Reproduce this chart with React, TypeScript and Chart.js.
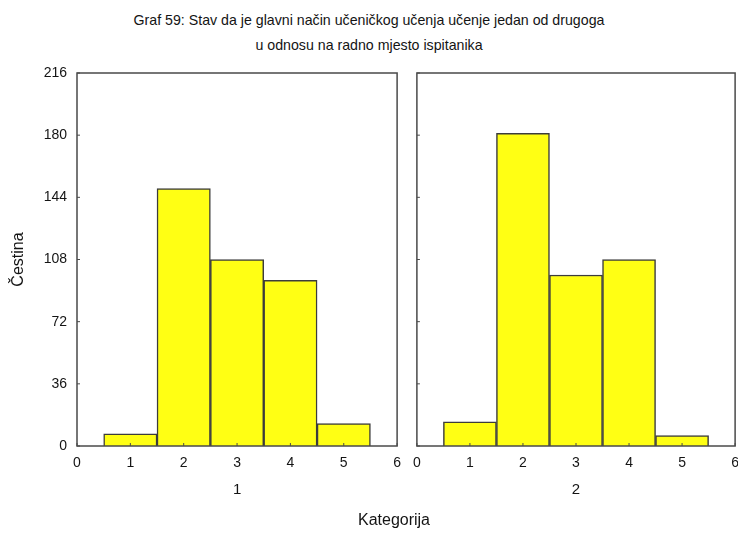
import React, { useEffect, useRef } from 'react';
import { Chart, registerables } from 'chart.js';

Chart.register(...registerables);

const categories = [1, 2, 3, 4, 5];
const group1Values = [7, 149, 108, 96, 13];
const group2Values = [14, 181, 99, 108, 6];
const yTicks = [0, 36, 72, 108, 144, 180, 216];
const xTicks = [0, 1, 2, 3, 4, 5, 6];
const panelLabels = ['1', '2'];
const titleLines = [
  'Graf 59: Stav da je glavni način učeničkog učenja učenje jedan od drugoga',
  'u odnosu na radno mjesto ispitanika',
];
const yAxisTitle = 'Čestina';
const xAxisTitle = 'Kategorija';

const FONT = "'Liberation Sans', Arial, sans-serif";
const TEXT = '#141414';
const LINE = '#4a4a4a';

const framePlugin = {
  id: 'frameTicks',
  afterDatasetsDraw(chart: any) {
    const { ctx, chartArea: a, scales } = chart;
    ctx.save();
    ctx.strokeStyle = LINE;
    ctx.lineWidth = 1.5;
    ctx.strokeRect(a.left, a.top, a.right - a.left, a.bottom - a.top);
    ctx.lineWidth = 1;
    ctx.beginPath();
    xTicks.forEach((v) => {
      const x = scales.x.getPixelForValue(v);
      ctx.moveTo(x, a.bottom);
      ctx.lineTo(x, a.bottom - 3);
    });
    yTicks.forEach((v) => {
      const y = scales.y.getPixelForValue(v);
      ctx.moveTo(a.left, y);
      ctx.lineTo(a.left + 3, y);
    });
    ctx.stroke();
    ctx.restore();
  },
};

function makeConfig(values: number[], panelLabel: string, showY: boolean, padLeft: number): any {
  return {
    type: 'bar',
    data: {
      datasets: [
        {
          data: categories.map((c, i) => ({ x: c, y: values[i] })),
          backgroundColor: '#ffff14',
          borderColor: '#3c3c3c',
          borderWidth: 1.5,
          barPercentage: 1,
          categoryPercentage: 1,
        },
      ],
    },
    options: {
      responsive: false,
      animation: false,
      layout: { padding: { top: 73, left: padLeft, right: 0, bottom: 0 } },
      plugins: { legend: { display: false }, tooltip: { enabled: false }, title: { display: false } },
      scales: {
        x: {
          type: 'linear',
          min: 0,
          max: 6,
          offset: false,
          grid: { display: false, drawTicks: false },
          border: { display: false },
          ticks: {
            stepSize: 1,
            autoSkip: false,
            padding: 9,
            color: TEXT,
            font: { family: FONT, size: 14 },
            callback: (v: number) => String(v),
          },
          title: {
            display: true,
            text: panelLabel,
            color: TEXT,
            font: { family: FONT, size: 15 },
            padding: { top: 0, bottom: 35 },
          },
          afterFit: (s: any) => {
            s.height = 88;
          },
        },
        y: {
          display: showY,
          min: 0,
          max: 216,
          grid: { display: false, drawTicks: false },
          border: { display: false },
          ticks: {
            stepSize: 36,
            padding: 10,
            color: TEXT,
            font: { family: FONT, size: 14 },
          },
          title: {
            display: true,
            text: yAxisTitle,
            color: TEXT,
            font: { family: FONT, size: 16 },
            padding: { top: 9, bottom: 0 },
          },
          afterFit: (s: any) => {
            if (showY) s.width = 77;
          },
        },
      },
    },
    plugins: [framePlugin],
  };
}

function Panel(props: { values: number[]; label: string; showY: boolean; left: number; width: number; padLeft: number }) {
  const ref = useRef<HTMLCanvasElement | null>(null);
  useEffect(() => {
    if (!ref.current) return;
    const chart = new Chart(ref.current, makeConfig(props.values, props.label, props.showY, props.padLeft));
    return () => chart.destroy();
  }, []);
  return (
    <canvas
      ref={ref}
      width={props.width}
      height={534}
      style={{ position: 'absolute', left: props.left, top: 0, width: props.width, height: 534 }}
    />
  );
}

export default function App() {
  return (
    <div
      style={{
        position: 'absolute',
        left: 0,
        top: 0,
        width: 738,
        height: 534,
        overflow: 'hidden',
        background: '#ffffff',
        fontFamily: FONT,
        color: TEXT,
      }}
    >
      <div
        style={{
          position: 'absolute',
          left: 0,
          top: 8,
          width: 738,
          textAlign: 'center',
          fontSize: 14.2,
          lineHeight: '25px',
        }}
      >
        {titleLines.map((t) => (
          <div key={t}>{t}</div>
        ))}
      </div>
      <Panel values={group1Values} label={panelLabels[0]} showY={true} left={0} width={410} padLeft={0} />
      <Panel values={group2Values} label={panelLabels[1]} showY={false} left={404} width={344} padLeft={12} />
      <div
        style={{
          position: 'absolute',
          left: 294,
          width: 200,
          top: 510,
          textAlign: 'center',
          fontSize: 16,
          lineHeight: '20px',
        }}
      >
        {xAxisTitle}
      </div>
    </div>
  );
}
